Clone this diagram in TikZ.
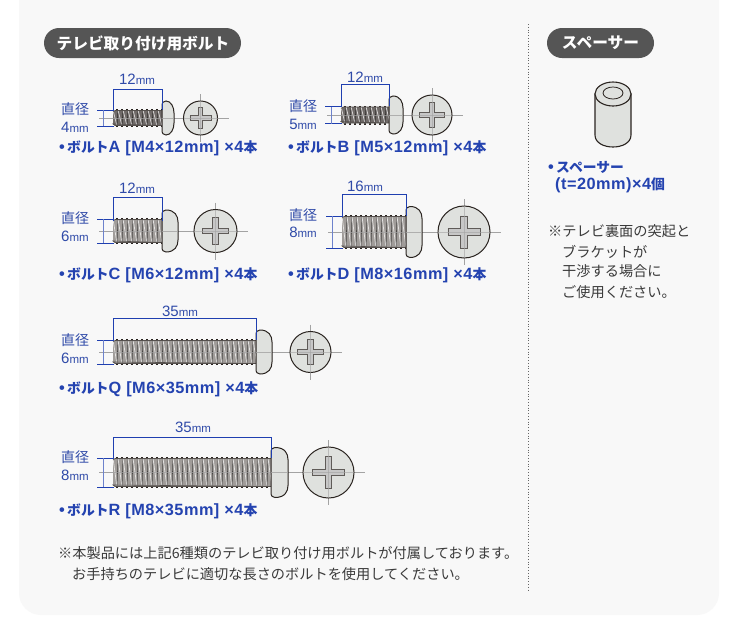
\documentclass[tikz,border=0pt]{standalone}
\usepackage{fontspec}
\setmainfont{Noto Sans CJK JP}
\newfontfamily\latf{Liberation Sans}
\newfontfamily\latb[LetterSpace=3]{Liberation Sans}
\usetikzlibrary{arrows.meta}
\definecolor{panel}{HTML}{F8F8F8}
\definecolor{pill}{HTML}{555555}
\definecolor{dimblue}{HTML}{2F4AA8}
\definecolor{dimline}{HTML}{1F3FB0}
\definecolor{boldblue}{HTML}{2443B0}
\definecolor{headfill}{HTML}{DFE1DE}
\definecolor{outl}{HTML}{2A2420}
\definecolor{axisg}{HTML}{A3A3A3}
\definecolor{txt}{HTML}{3A3A3A}
\definecolor{threadd}{HTML}{6F6A68}
\definecolor{threadl}{HTML}{A09C99}
\tikzset{
  x=1pt,y=-1pt,
  pilltxt/.style={text=white,font=\fontsize{15.7}{15.7}\selectfont\bfseries,inner sep=0},
  partlabel/.style={anchor=west,text=boldblue,font=\fontsize{13.8}{14.7}\selectfont\bfseries,inner sep=0},
  note/.style={anchor=west,text=txt,font=\fontsize{14.2}{14.2}\selectfont,inner sep=0},
  dimtxt/.style={text=dimblue,font=\fontsize{14}{14}\selectfont,inner sep=0},
  dimstroke/.style={draw=dimline,line width=.75pt},
  diastroke/.style={draw=dimline!65,line width=.8pt},
  axisline/.style={draw=axisg,line width=.8pt},
  outline/.style={draw=outl,line width=1pt},
}
\newcommand{\mmlab}[1]{{\latf\fontsize{15}{15}\selectfont #1\fontsize{11.5}{11.5}\selectfont mm}}
\newcommand{\lat}[1]{{\latb\bfseries\fontsize{16.3}{16.3}\selectfont #1}}
% #1 x0, #2 x1, #3 yc, #4 half dia, #5 x2, #6 head half h, #7 cx, #8 r, #9 thread colour
\newcommand{\screw}[9]{%
  \draw[axisline] (#1-14,#3) -- (#7+#8+11,#3);
  \draw[axisline] (#7,#3-#8-7) -- (#7,#3+#8+7);
  \draw[draw=outl,line width=2pt,dash pattern=on 2pt off 3pt] (#1+3,#3-#4) -- (#2,#3-#4);
  \draw[draw=outl,line width=2pt,dash pattern=on 2pt off 3pt] (#1+3,#3+#4) -- (#2,#3+#4);
  \fill[#9] (#1,#3-#4+2) -- (#1+2,#3-#4+.5) -- (#2,#3-#4+.5) -- (#2,#3+#4-.5) -- (#1+2,#3+#4-.5) -- (#1,#3+#4-2) -- cycle;
  \begin{scope}
    \clip (#1,#3-#4+.5) rectangle (#2,#3+#4-.5);
    \foreach \k in {0,5,...,160}{%
      \draw[white!72!#9,line width=.8pt] (#1+\k,#3-#4) -- (#1+\k+4,#3+#4);
      \draw[black!55!#9,line width=.6pt] (#1+\k+4,#3+#4) -- (#1+\k+5,#3-#4);
    }
  \end{scope}
  \draw[draw=outl!80,line width=.6pt] (#1,#3-#4+2) -- (#1+2,#3-#4+.5) -- (#2,#3-#4+.5) (#2,#3+#4-.5) -- (#1+2,#3+#4-.5) -- (#1,#3+#4-2) -- cycle;
  \draw[axisline,draw opacity=.7] (#1,#3) -- (#5,#3);
  \draw[outline,fill=headfill] (#2,#3-#6+5) .. controls (#2,#3-#6+1.5) and (#2+1.5,#3-#6) .. (#2+4,#3-#6)
     .. controls (#5-3,#3-#6) and (#5,#3-#6+6) .. (#5,#3-#6+12)
     -- (#5,#3+#6-12) .. controls (#5,#3+#6-6) and (#5-3,#3+#6) .. (#2+4,#3+#6)
     .. controls (#2+1.5,#3+#6) and (#2,#3+#6-1.5) .. (#2,#3+#6-5) -- cycle;
  \draw[axisline,draw opacity=.8] (#2,#3) -- (#5,#3);
  \draw[outline,fill=headfill] (#7,#3) circle[radius=#8];
  \pgfmathsetmacro{\armL}{.62*#8}\pgfmathsetmacro{\armW}{.13*#8}
  \draw[draw=outl!75,line width=.7pt,fill=black!22] (#7-\armL,#3-\armW) -- (#7-\armW,#3-\armW) -- (#7-\armW,#3-\armL) -- (#7+\armW,#3-\armL) -- (#7+\armW,#3-\armW) -- (#7+\armL,#3-\armW) -- (#7+\armL,#3+\armW) -- (#7+\armW,#3+\armW) -- (#7+\armW,#3+\armL) -- (#7-\armW,#3+\armL) -- (#7-\armW,#3+\armW) -- (#7-\armL,#3+\armW) -- cycle;
  \draw[axisline,draw opacity=.6] (#7-#8,#3) -- (#7+#8,#3);
  \draw[axisline,draw opacity=.6] (#7,#3-#8) -- (#7,#3+#8);
}
% #1 x0, #2 x1, #3 y dim, #4 y bottom of ticks
\newcommand{\lendim}[4]{%
  \draw[dimstroke] (#1,#3) -- (#2,#3);
  \draw[dimstroke] (#1,#3) -- (#1,#4);
  \draw[dimstroke] (#2,#3) -- (#2,#4);
}
% #1 x of shaft, #2 yc, #3 half
\newcommand{\diadim}[3]{%
  \draw[dimstroke] (#1-16,#2-#3) -- (#1+1,#2-#3);
  \draw[dimstroke] (#1-16,#2+#3) -- (#1+1,#2+#3);
  \draw[diastroke] (#1-10,#2-#3) -- (#1-10,#2+#3);
}
\begin{document}
\begin{tikzpicture}
\useasboundingbox (0,0) rectangle (740,635);
\fill[white] (0,0) rectangle (740,635);
\fill[panel,rounded corners=22pt] (19,-30) rectangle (719,615);
\draw[black!60,line width=.8pt,dotted] (528,24) -- (528,590);
% pills
\fill[pill,rounded corners=15pt] (44,28) rectangle (241,58);
\node[pilltxt] (t1) at (143,43) {テレビ取り付け用ボルト};
\fill[pill,rounded corners=15pt] (547,28) rectangle (654,58);
\node[pilltxt] (t2) at (600.5,43) {スペーサー};
% screws
\screw{113}{162}{118}{8}{174}{17}{200.5}{17}{threadd}
\lendim{113}{162}{89}{110}\diadim{113}{118}{8}
\screw{341}{389}{115}{8.5}{403}{19}{432}{20}{threadd}
\lendim{341}{389}{84}{106}\diadim{341}{115}{8.5}
\screw{113}{162}{231}{12}{178}{21}{215.5}{21.5}{threadl}
\lendim{113}{162}{197}{221}\diadim{113}{231}{12}
\screw{342}{406}{232}{16}{422}{25.5}{464}{26}{threadl}
\lendim{342}{406}{194}{216}\diadim{342}{232}{16}
\screw{113}{256}{352}{12}{272}{22}{310.5}{20.5}{threadl}
\lendim{113}{256}{318}{340}\diadim{113}{352}{12}
\screw{113}{271}{472.5}{14.5}{288}{25}{328.5}{25.5}{threadl}
\lendim{113}{271}{437}{458}\diadim{113}{472.5}{14.5}
% dim labels
\node[dimtxt] (la) at (137,79) {\mmlab{12}};
\node[dimtxt] (lb) at (365,77) {\mmlab{12}};
\node[dimtxt] (lc) at (137,188) {\mmlab{12}};
\node[dimtxt] (ld) at (365,186) {\mmlab{16}};
\node[dimtxt] (lq) at (180,311) {\mmlab{35}};
\node[dimtxt] (lr) at (193,427) {\mmlab{35}};
\node[dimtxt] (da) at (75,109) {直径}; \node[dimtxt] (db) at (75,127) {\mmlab{4}};
\node[dimtxt] (dc) at (303,106) {直径}; \node[dimtxt] (dd) at (303,124) {\mmlab{5}};
\node[dimtxt] (de) at (75,218) {直径}; \node[dimtxt] (df) at (75,236) {\mmlab{6}};
\node[dimtxt] (dg) at (303,215) {直径}; \node[dimtxt] (dh) at (303,232) {\mmlab{8}};
\node[dimtxt] (di) at (75,340) {直径}; \node[dimtxt] (dj) at (75,358) {\mmlab{6}};
\node[dimtxt] (dk) at (75,457) {直径}; \node[dimtxt] (dl) at (75,475) {\mmlab{8}};
% part labels
\node[partlabel] (pa) at (59,148) {\lat{•}\,ボルト\lat{A [M4×12mm] ×4}本};
\node[partlabel] (pb) at (288,148) {\lat{•}\,ボルト\lat{B [M5×12mm] ×4}本};
\node[partlabel] (pc) at (59,275) {\lat{•}\,ボルト\lat{C [M6×12mm] ×4}本};
\node[partlabel] (pd) at (288,275) {\lat{•}\,ボルト\lat{D [M8×16mm] ×4}本};
\node[partlabel] (pq) at (59,389) {\lat{•}\,ボルト\lat{Q [M6×35mm] ×4}本};
\node[partlabel] (pr) at (59,511) {\lat{•}\,ボルト\lat{R [M8×35mm] ×4}本};
% notes
\node[note] (n1) at (58,553) {※本製品には上記6種類のテレビ取り付け用ボルトが付属しております。};
\node[note] (n2) at (72,574) {お手持ちのテレビに適切な長さのボルトを使用してください。};
% spacer
\draw[draw=outl,line width=1.1pt,fill=headfill] (595,94) -- (595,135) .. controls (595,151) and (631,151) .. (631,135) -- (631,94) -- cycle;
\draw[draw=outl,line width=1.1pt,fill=headfill] (613,94) ellipse[x radius=18,y radius=12];
\draw[draw=outl,line width=.8pt,fill=headfill] (613,93) ellipse[x radius=10,y radius=6];
\node[partlabel] (s1) at (548,167) {\lat{•}\,スペーサー};
\node[partlabel] (s2) at (555,185) {\lat{(t=20mm)×4}個};
\node[note] (r1) at (548,231) {※テレビ裏面の突起と};
\node[note] (r2) at (562,252) {ブラケットが};
\node[note] (r3) at (562,271) {干渉する場合に};
\node[note] (r4) at (562,292) {ご使用ください。};
\end{tikzpicture}
\end{document}
